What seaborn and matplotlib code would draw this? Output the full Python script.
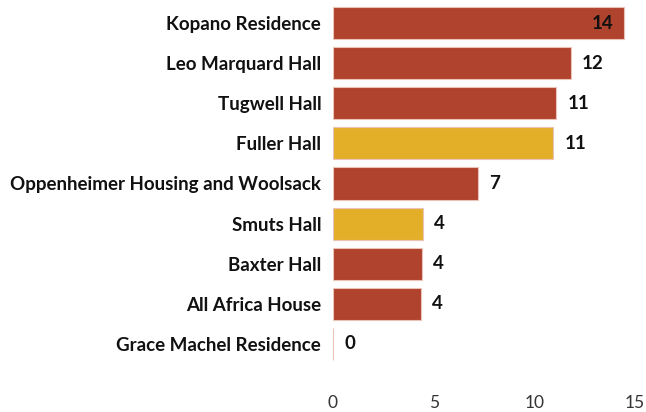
import seaborn as sns
import matplotlib.pyplot as plt
import pandas as pd

residences = [
    "Kopano Residence",
    "Leo Marquard Hall",
    "Tugwell Hall",
    "Fuller Hall",
    "Oppenheimer Housing and Woolsack",
    "Smuts Hall",
    "Baxter Hall",
    "All Africa House",
    "Grace Machel Residence",
]
values = [14.45, 11.8, 11.1, 10.95, 7.2, 4.45, 4.42, 4.36, 0.0]
groups = ["other", "other", "other", "highlight", "other", "highlight", "other", "other", "other"]
x_ticks = [0, 5, 10, 15]

RED = "#B0432D"
YELLOW = "#E4AF28"
TEXT = "#111111"

df = pd.DataFrame({"residence": residences, "value": values, "group": groups})

sns.set_style("white")
plt.rcParams["font.family"] = ["Lato", "DejaVu Sans"]

fig = plt.figure(figsize=(6.46, 4.12), dpi=100)
ax = fig.add_axes([333 / 646, 1 - 364 / 412, (635 - 333) / 646, (364 - 3) / 412])

sns.barplot(
    data=df, x="value", y="residence", hue="group",
    palette={"other": RED, "highlight": YELLOW}, saturation=1,
    dodge=False, width=0.8, legend=False, ax=ax,
    edgecolor="#EBC2B8", linewidth=0.8,
)

ax.set_xlim(0, 15)
ax.set_xticks(x_ticks)
ax.set_xticklabels([str(t) for t in x_ticks], fontsize=12.5, color="#333333")
ax.set_xlabel("")
ax.set_ylabel("")
for lbl in ax.get_yticklabels():
    lbl.set_fontweight("bold")
    lbl.set_fontsize(13.5)
    lbl.set_color(TEXT)
ax.tick_params(axis="y", length=0, pad=8.5)
ax.tick_params(axis="x", length=0, pad=22.5)
for s in ax.spines.values():
    s.set_visible(False)

for i, v in enumerate(values):
    lab = str(int(round(v)))
    if v > 13:
        ax.text(v - 0.5, i, lab, ha="right", va="center", fontsize=13.5,
                fontweight="bold", color=TEXT)
    else:
        ax.text(v + 0.55, i, lab, ha="left", va="center", fontsize=13.5,
                fontweight="bold", color=TEXT)

fig.savefig("out.png", dpi=100)
